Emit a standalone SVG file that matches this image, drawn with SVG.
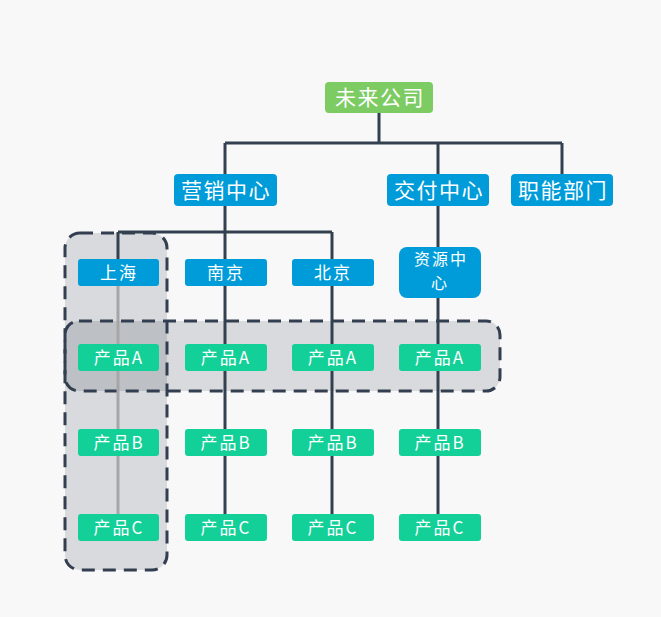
<svg xmlns="http://www.w3.org/2000/svg" width="661" height="617" viewBox="0 0 661 617">
<style>
.bg{fill:#f8f8f8}
.zone{fill:#333f50;fill-opacity:0.16;stroke:#333f50;stroke-width:3;stroke-dasharray:13 8}
.ln{fill:none;stroke:#334050;stroke-width:3}
.lg{fill:none;stroke:#a6a6a6;stroke-width:3}
.root{fill:#7dcb63}
.dep{fill:#009cd9}
.prod{fill:#13cf98}
text{fill:#ffffff;font-family:"Noto Sans CJK SC","Noto Sans",sans-serif;text-anchor:middle}
.t1{font-size:21px;letter-spacing:1.5px}
.t2{font-size:17px;letter-spacing:2px}
.t3{font-size:16px;letter-spacing:2px}
</style>
<rect class="bg" x="0" y="0" width="661" height="617"/>
<g id="zones">
<rect class="zone" x="65" y="233" width="102" height="337" rx="15"/>
<rect class="zone" x="65" y="321" width="435" height="70" rx="14"/>
</g>
<g id="connectors">
<path class="ln" d="M379 113V143M225 143H562M225 143V174M438 143V174M562 143V174"/>
<path class="ln" d="M225 206V232M118 232H332M118 232V259M225 232V514M332 232V514M438 206V514"/>
<path class="lg" d="M118 286V514"/>
</g>
<g id="n-root"><rect class="root" x="325" y="82" width="108" height="31" rx="4"/><text class="t1" x="380" y="105">未来公司</text></g>
<g id="n-yx"><rect class="dep" x="174" y="174" width="103" height="32" rx="4"/><text class="t1" x="226" y="198">营销中心</text></g>
<g id="n-jf"><rect class="dep" x="387" y="174" width="102" height="32" rx="4"/><text class="t1" x="439" y="198">交付中心</text></g>
<g id="n-zn"><rect class="dep" x="511" y="174" width="102" height="32" rx="4"/><text class="t1" x="563" y="198">职能部门</text></g>
<g id="n-sh"><rect class="dep" x="78" y="259" width="81" height="27" rx="3"/><text class="t2" x="119" y="279">上海</text></g>
<g id="n-nj"><rect class="dep" x="185" y="259" width="82" height="27" rx="3"/><text class="t2" x="226" y="279">南京</text></g>
<g id="n-bj"><rect class="dep" x="292" y="259" width="82" height="27" rx="3"/><text class="t2" x="333" y="279">北京</text></g>
<g id="n-zy"><rect class="dep" x="399" y="247" width="82" height="51" rx="8"/><text class="t3" x="441" y="265">资源中</text><text class="t3" x="440" y="289">心</text></g>
<g id="n-shA"><rect class="prod" x="78" y="344" width="81" height="27" rx="3"/><text class="t2" x="119" y="364">产品A</text></g>
<g id="n-njA"><rect class="prod" x="185" y="344" width="82" height="27" rx="3"/><text class="t2" x="226" y="364">产品A</text></g>
<g id="n-bjA"><rect class="prod" x="292" y="344" width="82" height="27" rx="3"/><text class="t2" x="333" y="364">产品A</text></g>
<g id="n-zyA"><rect class="prod" x="399" y="344" width="82" height="27" rx="3"/><text class="t2" x="440" y="364">产品A</text></g>
<g id="n-shB"><rect class="prod" x="78" y="429" width="81" height="27" rx="3"/><text class="t2" x="119" y="449">产品B</text></g>
<g id="n-njB"><rect class="prod" x="185" y="429" width="82" height="27" rx="3"/><text class="t2" x="226" y="449">产品B</text></g>
<g id="n-bjB"><rect class="prod" x="292" y="429" width="82" height="27" rx="3"/><text class="t2" x="333" y="449">产品B</text></g>
<g id="n-zyB"><rect class="prod" x="399" y="429" width="82" height="27" rx="3"/><text class="t2" x="440" y="449">产品B</text></g>
<g id="n-shC"><rect class="prod" x="78" y="514" width="81" height="27" rx="3"/><text class="t2" x="119" y="534">产品C</text></g>
<g id="n-njC"><rect class="prod" x="185" y="514" width="82" height="27" rx="3"/><text class="t2" x="226" y="534">产品C</text></g>
<g id="n-bjC"><rect class="prod" x="292" y="514" width="82" height="27" rx="3"/><text class="t2" x="333" y="534">产品C</text></g>
<g id="n-zyC"><rect class="prod" x="399" y="514" width="82" height="27" rx="3"/><text class="t2" x="440" y="534">产品C</text></g>
</svg>
